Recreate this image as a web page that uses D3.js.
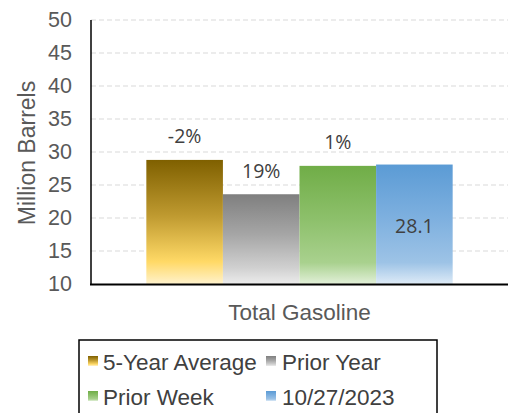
<!DOCTYPE html>
<html>
<head>
<meta charset="utf-8">
<script src="https://cdn.jsdelivr.net/npm/d3@7"></script>
<style>
  body { margin: 0; background: #fff; }
  svg { display: block; font-family: "Liberation Sans", Arial, sans-serif; }
</style>
</head>
<body>
<div id="chart"></div>
<script>
// chart data
var categories = ["Total Gasoline"];
var seriesNames = ["5-Year Average", "Prior Year", "Prior Week", "10/27/2023"];
var values = [28.8, 23.6, 27.9, 28.1];
var barLabels = ["-2%", "19%", "1%", "28.1"];
var yTicks = [10, 15, 20, 25, 30, 35, 40, 45, 50];

// gradient stops per series (top -> bottom)
var gradients = [
  ["#7f6000", "#bf9a30", "#ffd966", "#fff2cc"],
  ["#7f7f7f", "#a6a6a6", "#d0d0d0", "#ececec"],
  ["#70ad47", "#8dc06b", "#a9d18e", "#e2f0d9"],
  ["#5b9bd5", "#7eb0df", "#9dc3e6", "#deebf7"]
];

var width = 511, height = 413;
var plot = {left: 91, right: 508, top: 20, bottom: 284};

var svg = d3.select("#chart").append("svg")
  .attr("width", width)
  .attr("height", height);

var defs = svg.append("defs");
gradients.forEach(function(stops, i) {
  var g = defs.append("linearGradient")
    .attr("id", "grad" + i)
    .attr("x1", 0).attr("y1", 0).attr("x2", 0).attr("y2", 1);
  var offs = [0, 0.45, 0.82, 1];
  stops.forEach(function(c, j) {
    g.append("stop").attr("offset", offs[j]).attr("stop-color", c);
  });
});

var y = d3.scaleLinear()
  .domain([10, 50])
  .range([plot.bottom, plot.top]);

var x0 = d3.scaleBand()
  .domain(categories)
  .range([plot.left, plot.right])
  .padding(0.153);

var x1 = d3.scaleBand()
  .domain(seriesNames)
  .range([0, x0.bandwidth()])
  .padding(0);

// gridlines
svg.append("g")
  .selectAll("line")
  .data(yTicks.filter(function(t) { return t > 10; }))
  .enter().append("line")
  .attr("x1", plot.left)
  .attr("x2", plot.right)
  .attr("y1", function(d) { return y(d); })
  .attr("y2", function(d) { return y(d); })
  .attr("stroke", "#d9d9d9")
  .attr("stroke-width", 1)
  .attr("stroke-dasharray", "5,3");

// y axis labels
var yAxis = svg.append("g")
  .attr("transform", "translate(" + plot.left + ",0)")
  .call(d3.axisLeft(y).tickValues(yTicks).tickSize(0).tickPadding(19));
yAxis.select(".domain").remove();
yAxis.selectAll("text")
  .attr("fill", "#595959")
  .style("font-size", "21.5px")
  .style("font-family", "Liberation Sans, Arial, sans-serif");

// bars
var group = svg.append("g")
  .attr("transform", "translate(" + x0(categories[0]) + ",0)");

group.selectAll("rect")
  .data(values)
  .enter().append("rect")
  .attr("x", function(d, i) { return x1(seriesNames[i]); })
  .attr("y", function(d) { return y(d); })
  .attr("width", x1.bandwidth())
  .attr("height", function(d) { return y(10) - y(d); })
  .attr("fill", function(d, i) { return "url(#grad" + i + ")"; });

// labels
group.selectAll("text.lbl")
  .data(values)
  .enter().append("text")
  .attr("class", "lbl")
  .attr("x", function(d, i) { return x1(seriesNames[i]) + x1.bandwidth() / 2; })
  .attr("y", function(d, i) {
    if (i === 3) return (y(d) + y(10)) / 2 + 1;
    return y(d) - 24;
  })
  .attr("text-anchor", "middle")
  .attr("dominant-baseline", "central")
  .attr("fill", "#404040")
  .style("font-size", "19.5px")
  .style("font-family", "Open Sans, sans-serif")
  .text(function(d, i) { return barLabels[i]; });

// axis lines
svg.append("line")
  .attr("x1", plot.left).attr("x2", plot.left)
  .attr("y1", plot.top).attr("y2", plot.bottom)
  .attr("stroke", "#000").attr("stroke-width", 1.5);
svg.append("line")
  .attr("x1", plot.left - 1).attr("x2", plot.right)
  .attr("y1", plot.bottom + 0.5).attr("y2", plot.bottom + 0.5)
  .attr("stroke", "#000").attr("stroke-width", 2);

// axis titles
svg.append("text")
  .attr("transform", "translate(27," + 153 + ") rotate(-90)")
  .attr("text-anchor", "middle")
  .attr("dominant-baseline", "central")
  .attr("fill", "#595959")
  .style("font-size", "23px")
  .text("Million Barrels");

svg.append("text")
  .attr("x", x0(categories[0]) + x0.bandwidth() / 2)
  .attr("y", 312)
  .attr("text-anchor", "middle")
  .attr("dominant-baseline", "central")
  .attr("fill", "#595959")
  .style("font-size", "22.5px")
  .text(categories[0]);

// legend
var legend = svg.append("g");
legend.append("rect")
  .attr("x", 79).attr("y", 340)
  .attr("width", 358).attr("height", 80)
  .attr("fill", "none")
  .attr("stroke", "#000")
  .attr("stroke-width", 1.5);

var legendPos = [[88, 361], [266, 361], [88, 396], [266, 396]];
var items = legend.selectAll("g.item")
  .data(seriesNames)
  .enter().append("g")
  .attr("class", "item")
  .attr("transform", function(d, i) { return "translate(" + legendPos[i][0] + "," + legendPos[i][1] + ")"; });

items.append("rect")
  .attr("x", 0).attr("y", -5)
  .attr("width", 10).attr("height", 10)
  .attr("fill", function(d, i) { return "url(#grad" + i + ")"; });

items.append("text")
  .attr("x", function(d, i) { return i % 2 === 0 ? 15 : 16; })
  .attr("y", 1)
  .attr("dominant-baseline", "central")
  .attr("fill", "#404040")
  .style("font-size", "22.5px")
  .text(function(d) { return d; });
</script>
</body>
</html>
